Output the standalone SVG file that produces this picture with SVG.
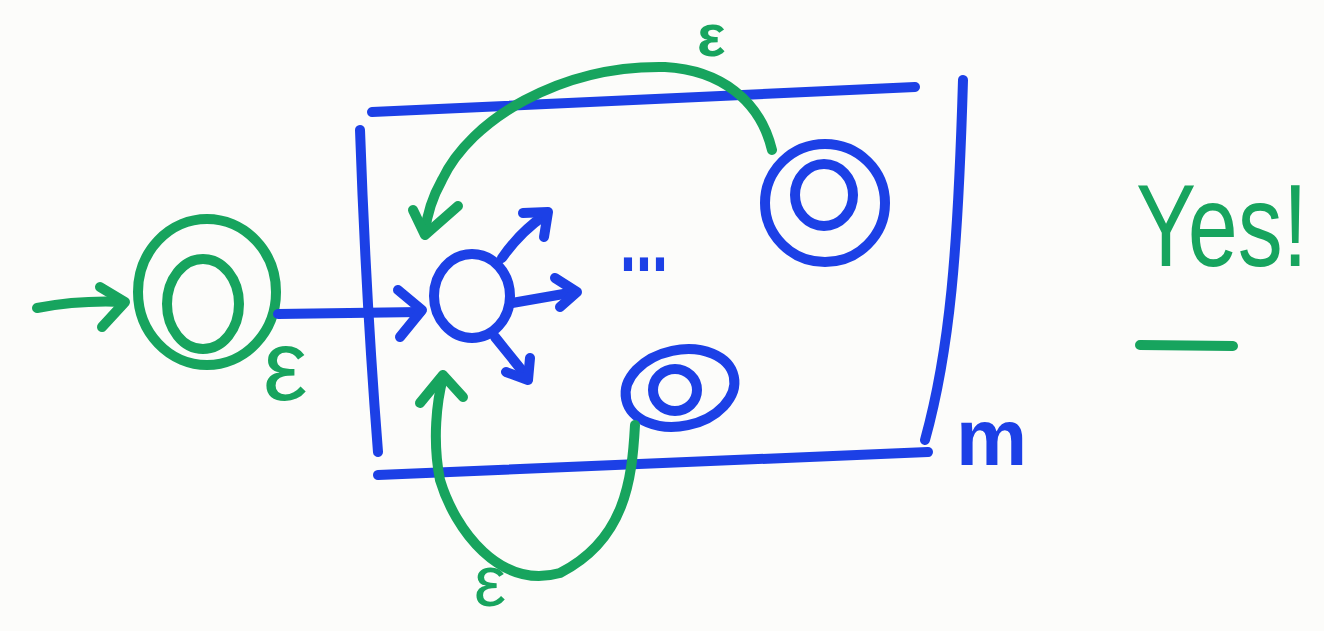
<svg xmlns="http://www.w3.org/2000/svg" width="1324" height="631" viewBox="0 0 1324 631">
<style>
.b{fill:none;stroke:#1c40e6;stroke-width:10;stroke-linecap:round;stroke-linejoin:round}
.g{fill:none;stroke:#17a45e;stroke-width:10;stroke-linecap:round;stroke-linejoin:round}
.tg{fill:#17a45e;font-family:"Liberation Sans",Arial,sans-serif}
.tb{fill:#1c40e6;font-family:"Liberation Sans",Arial,sans-serif;font-weight:bold}
</style>
<rect width="1324" height="631" fill="#fcfcfa"/>
<g id="machine-m">
<path class="b" d="M372,112 L915,87"/>
<path class="b" d="M360,130 Q366,300 378,452"/>
<path class="b" d="M378,475 L928,452"/>
<path class="b" d="M963,80 C958,250 950,350 925,440"/>
<text class="tb" x="956" y="465" font-size="80">m</text>
</g>
<g id="start-state">
<ellipse class="g" cx="207" cy="292" rx="69" ry="73"/>
<ellipse class="g" cx="203" cy="304" rx="36" ry="45"/>
</g>
<g id="central-state">
<ellipse class="b" cx="472" cy="296" rx="38" ry="42"/>
</g>
<g id="accept-top">
<ellipse class="b" cx="825" cy="203" rx="60" ry="59"/>
<ellipse class="b" cx="824" cy="195" rx="29" ry="31"/>
</g>
<g id="accept-bottom">
<ellipse class="b" cx="680" cy="388" rx="55" ry="38" transform="rotate(-12 680 388)"/>
<ellipse class="b" cx="675" cy="390" rx="22" ry="21"/>
</g>
<g id="connectors">
<path class="g" d="M37,308 Q80,300 123,302"/>
<path class="g" d="M100,287 L125,302 L102,327"/>
<path class="b" d="M278,314 L420,312"/>
<path class="b" d="M398,290 L422,310 L400,337"/>
<path class="b" d="M502,258 Q520,232 545,215"/>
<path class="b" d="M523,213 L548,212 L544,237"/>
<path class="b" d="M512,303 L575,292"/>
<path class="b" d="M555,278 L577,292 L560,307"/>
<path class="b" d="M495,337 L528,378"/>
<path class="b" d="M506,372 L528,380 L530,358"/>
<path class="g" d="M772,150 C760,100 720,70 665,67 C560,65 470,120 442,180 Q428,205 425,232"/>
<path class="g" d="M413,210 L425,235 L458,206"/>
<path class="g" d="M635,425 C632,480 625,540 560,573 C500,590 455,530 440,480 C432,440 437,400 443,378"/>
<path class="g" d="M420,403 L443,375 L463,397"/>
</g>
<g id="labels">
<text class="tb" x="620" y="271" font-size="90" textLength="48" lengthAdjust="spacingAndGlyphs">...</text>
<text class="tg" x="697" y="56" font-size="60" font-weight="bold">ε</text>
<text class="tg" x="263" y="400" font-size="100">ε</text>
<text class="tg" x="474" y="606" font-size="72">ε</text>
<text class="tg" transform="translate(1136,266) scale(1,1.3)" x="0" y="0" font-size="90">Yes!</text>
<path class="g" d="M1140,345 L1233,346" stroke-width="12"/>
</g>
</svg>
